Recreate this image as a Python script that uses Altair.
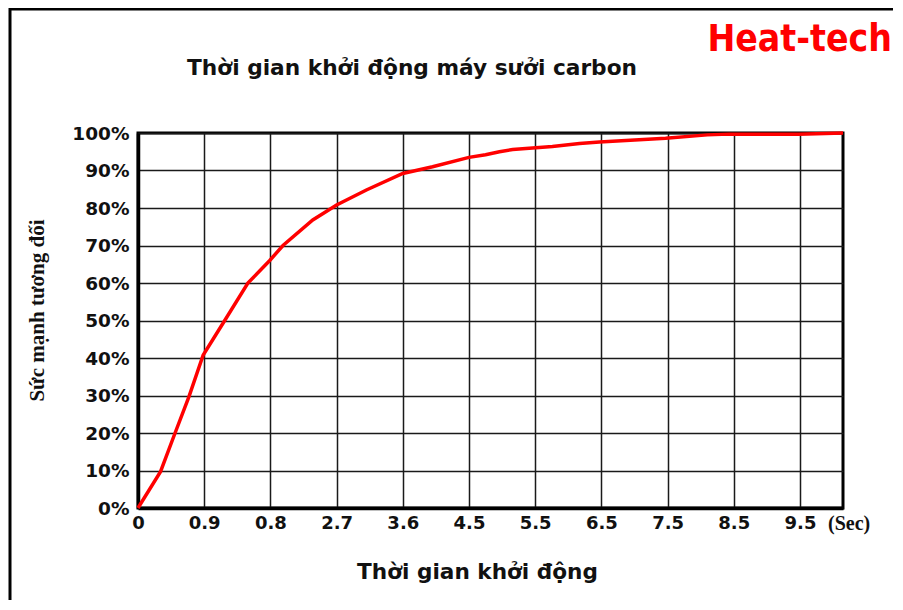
import altair as alt
import pandas as pd

# ---- data ----
tick_labels = ["0", "0.9", "0.8", "2.7", "3.6", "4.5", "5.5", "6.5", "7.5", "8.5", "9.5"]
# x positions are in tick-index units (0 = "0", 1 = "0.9", ... 10 = "9.5")
curve_x = [0, 0.34, 0.56, 0.77, 0.985, 1.31, 1.66, 1.99, 2.19, 2.64, 3.0, 3.45, 4.0,
           4.45, 5.0, 5.25, 5.46, 5.66, 6.26, 6.67, 6.97, 7.97, 8.6, 8.93, 9.98, 10.65]
curve_y = [0, 9.7, 20, 29.7, 40.8, 50, 60, 66, 70, 76.8, 80.8, 84.8, 89.2,
           91, 93.5, 94.2, 95, 95.6, 96.4, 97.2, 97.6, 98.6, 99.5, 99.7, 99.7, 100]
y_ticks = [0, 10, 20, 30, 40, 50, 60, 70, 80, 90, 100]

title_text = "Thời gian khởi động máy sưởi carbon"
x_title = "Thời gian khởi động"
y_title = "Sức mạnh tương đối"
brand = "Heat-tech"
unit = "(Sec)"

df = pd.DataFrame({"x": curve_x, "y": curve_y})

W, H = 705, 375
label_expr = "[" + ",".join(f"'{t}'" for t in tick_labels) + "][datum.value]"

xscale = alt.Scale(domain=[0, 10.65], nice=False, zero=False)
yscale = alt.Scale(domain=[0, 100], nice=False)

line = alt.Chart(df).mark_line(color="#ff0000", strokeWidth=3.5, clip=False).encode(
    x=alt.X("x:Q", scale=xscale,
            axis=alt.Axis(values=list(range(len(tick_labels))), labelExpr=label_expr,
                          grid=True, gridColor="#1a1a1a", gridWidth=1.5, gridOpacity=1,
                          ticks=False, domain=True, domainColor="#000", domainWidth=3.5,
                          labelFont="DejaVu Sans", labelFontWeight="bold", labelFontSize=18,
                          labelColor="#111", labelPadding=6, labelFlush=False,
                          title=x_title, titleFont="DejaVu Sans", titleFontWeight="bold",
                          titleFontSize=21.6, titleColor="#111", titleX=339, titleY=64,
                          titleBaseline="middle", titleAlign="center")),
    y=alt.Y("y:Q", scale=yscale,
            axis=alt.Axis(values=y_ticks, labelExpr="datum.value + '%'",
                          grid=True, gridColor="#1a1a1a", gridWidth=1.5, gridOpacity=1,
                          ticks=False, domain=True, domainColor="#000", domainWidth=3.5,
                          labelFont="DejaVu Sans", labelFontWeight="bold", labelFontSize=18.5,
                          labelColor="#111", labelPadding=9, labelFlush=False,
                          title=y_title, titleFont="Liberation Serif", titleFontWeight="bold",
                          titleFontSize=21, titleColor="#111", titleAngle=270,
                          titleX=-101, titleY=177, titleBaseline="middle", titleAlign="center")),
)

def txt(s, x, y, **kw):
    return alt.Chart(pd.DataFrame({"t": [s]})).mark_text(clip=False, **kw).encode(
        text="t:N", x=alt.value(x), y=alt.value(y))

title_mark = txt(title_text, 274, -65, font="DejaVu Sans", fontWeight="bold",
                 fontSize=21.7, color="#111", align="center", baseline="middle")
brand_mark = txt(brand, 754, -93, font="DejaVu Sans Condensed, Roboto, sans-serif",
                 fontWeight="bold", fontSize=37, color="#ff0000", align="right",
                 baseline="middle")
unit_mark = txt(unit, 690, 391, font="Liberation Serif", fontWeight="bold",
                fontSize=20, color="#111", align="left", baseline="middle")

border = alt.Chart(pd.DataFrame({"a": [0]})).mark_rect(
    fill=None, stroke="#000", strokeWidth=3, clip=False).encode(
    x=alt.value(-128), x2=alt.value(800), y=alt.value(-124), y2=alt.value(520))

chart = alt.layer(border, line, title_mark, brand_mark, unit_mark).properties(
    width=W, height=H,
    padding={"left": 130, "top": 125, "right": 50, "bottom": 92},
    autosize=alt.AutoSizeParams(type="none"),
    background="white",
).configure_view(stroke="#000", strokeWidth=3)

chart.save("out.html", embed_options={"renderer": "svg", "actions": False})
